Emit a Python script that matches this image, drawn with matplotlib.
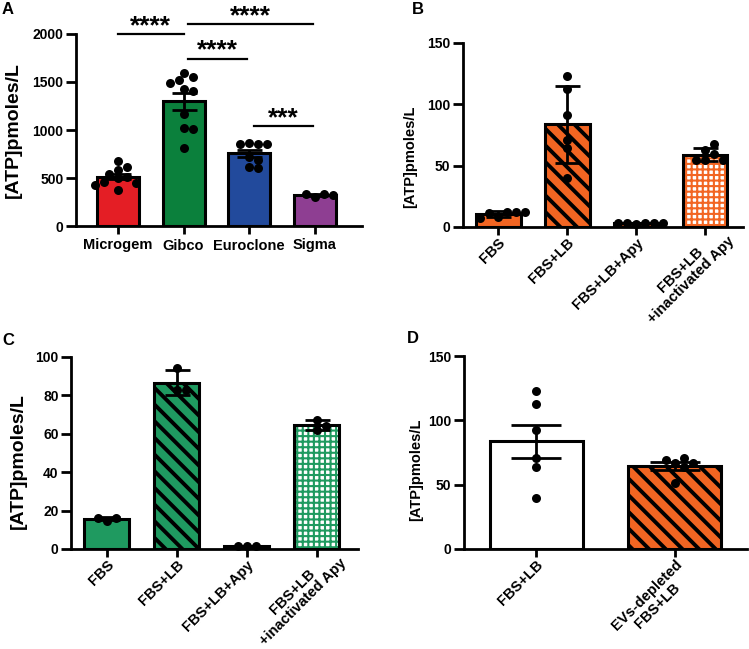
import numpy as np
import matplotlib
matplotlib.use("Agg")
import matplotlib.pyplot as plt

plt.rcParams['font.family'] = ['Liberation Sans', 'DejaVu Sans']
plt.rcParams['font.weight'] = 'bold'
plt.rcParams['axes.labelweight'] = 'bold'
plt.rcParams['axes.linewidth'] = 2

# ---- data ----
a_groups = ["Microgem", "Gibco", "Euroclone", "Sigma"]
a_colors = ["#E41E25", "#0B803C", "#224A9C", "#8E3E92"]
a_microgem = [677, 618, 583, 542, 514, 497, 460, 451, 430, 375]
a_gibco = [1597, 1549, 1521, 1493, 1424, 1410, 1163, 1017, 1007, 809]
a_euroclone = [868, 851, 851, 851, 722, 688, 618, 601]
a_sigma = [300, 338, 332, 322]
a_brackets = [(0, 1, 2000, "****"), (1, 3, 2100, "****"),
              (1, 2, 1740, "****"), (2, 3, 1040, "***")]

bc_groups = ["FBS", "FBS+LB", "FBS+LB+Apy", "FBS+LB\n+inactivated Apy"]
b_fbs = [8, 12, 11.5, 12, 7, 12]
b_fbs_lb = [123.3, 112.4, 91.4, 70.9, 64.1, 40.1]
b_apy = [2.5, 3, 3, 3.5, 3, 3]
b_inact = [62.8, 54.6, 59.3, 67.7, 54.6, 55]

c_fbs = [14.8, 16.1, 16.1]
c_fbs_lb = [94.1, 82.8, 82.8]
c_apy = [1.5, 1.7, 1.6]
c_inact = [62.2, 67.4, 63.9]

d_groups = ["FBS+LB", "EVs-depleted\nFBS+LB"]
d_fbs_lb = [122.6, 112.6, 92.4, 71.0, 64.0, 40.0]
d_ev = [66.6, 71.0, 69.2, 66.6, 51.1, 63.5]

orange = "#F26522"
green_c = "#1F9A60"

W, H = 749, 649
fig = plt.figure(figsize=(W / 100, H / 100), dpi=100)


def place(l, t, r, b):
    return fig.add_axes([l / W, 1 - b / H, (r - l) / W, (b - t) / H])


def style(ax, ymax, ystep, xlim):
    ax.set_xlim(*xlim)
    ax.set_ylim(0, ymax)
    ax.set_yticks(np.arange(0, ymax + 1, ystep))
    for s in ["top", "right"]:
        ax.spines[s].set_visible(False)
    ax.tick_params(axis="y", width=2, length=7, pad=2, labelsize=10)
    ax.tick_params(axis="x", width=2, length=6, pad=3, labelsize=10)


def swarm(ax, x0, vals, d=9.0):
    pts = ax.transData.transform([(x0, v) for v in vals])
    placed = []
    out = []
    for px, py in pts:
        for k in range(60):
            off = ((k + 1) // 2) * d * 0.5 * (1 if k % 2 else -1)
            ok = all((px + off - qx) ** 2 + (py - qy) ** 2 >= (d * 0.9) ** 2
                     for qx, qy in placed)
            if ok:
                break
        placed.append((px + off, py))
        out.append(ax.transData.inverted().transform((px + off, py)))
    out = np.array(out)
    ax.scatter(out[:, 0], out[:, 1], s=42, color="black", zorder=5,
               clip_on=False, linewidths=0)


def bars(ax, series, kinds, color, width, err="sem", cap=9):
    x = np.arange(len(series))
    for i, (vals, kind) in enumerate(zip(series, kinds)):
        v = np.array(vals, float)
        m = v.mean()
        sd = v.std(ddof=1)
        e = sd / np.sqrt(len(v)) if err == "sem" else sd
        c = color[i] if isinstance(color, list) else color
        if kind == "solid":
            ax.bar(i, m, width, color=c, edgecolor="black", linewidth=2.2, zorder=2)
        elif kind == "white":
            ax.bar(i, m, width, color="white", edgecolor="black", linewidth=2.2, zorder=2)
        elif kind == "stripe":
            b = ax.bar(i, m, width, color=c, edgecolor="black", linewidth=2.2,
                       hatch="\\\\", zorder=2)
            for p in b:
                if hasattr(p, "set_hatch_linewidth"):
                    p.set_hatch_linewidth(2.8)
        elif kind == "grid":
            b = ax.bar(i, m, width, color="white", edgecolor=c, linewidth=0,
                       hatch="+++", zorder=2)
            for p in b:
                if hasattr(p, "set_hatch_linewidth"):
                    p.set_hatch_linewidth(1.5)
            ax.bar(i, m, width, color="none", edgecolor="black", linewidth=2.2, zorder=2)
        ax.errorbar(i, m, yerr=e, fmt="none", ecolor="black", elinewidth=2,
                    capsize=cap, capthick=2, zorder=4)
        swarm(ax, i, vals)
    ax.set_xticks(x)


def rot_labels(ax, labels, size=10.5, shift=0):
    # rotated category labels, multi-line ones pushed along the text direction
    ax.set_xticklabels([""] * len(labels))
    for i, lab in enumerate(labels):
        s = shift if "\n" in lab else 0
        ax.annotate(lab, xy=(i, 0), xycoords=("data", "axes fraction"),
                    xytext=(s * 0.707, -6 + s * 0.707), textcoords="offset points",
                    rotation=45, ha="right", va="top", rotation_mode="anchor",
                    multialignment="center", fontsize=size, linespacing=1.1,
                    fontweight="bold", annotation_clip=False)


# ---- Panel A ----
axA = place(76, 34, 362, 226)
style(axA, 2000, 500, (-0.64, 3.72))
bars(axA, [a_microgem, a_gibco, a_euroclone, a_sigma], ["solid"] * 4, a_colors, 0.64)
axA.set_xticklabels(a_groups, fontsize=10.5)
axA.set_ylabel("[ATP]pmoles/L", fontsize=14)
axA.yaxis.set_label_coords(-0.19, 0.5)
for i, j, y, lab in a_brackets:
    x1 = i + (0.0 if i == 0 else 0.07)
    x2 = j - (0.0 if i == 0 else 0.03)
    axA.plot([x1, x2], [y, y], color="black", lw=1.6, clip_on=False)
    axA.text((x1 + x2) / 2, y - 40, lab, ha="center", va="bottom",
             fontsize=19, fontweight="bold")

# ---- Panel B ----
axB = place(463, 43, 743, 227)
style(axB, 150, 50, (-0.51, 3.55))
bars(axB, [b_fbs, b_fbs_lb, b_apy, b_inact], ["solid", "stripe", "solid", "grid"],
     orange, 0.65, err="sd")
rot_labels(axB, bc_groups, shift=12)
axB.set_ylabel("[ATP]pmoles/L", fontsize=10.5)
axB.yaxis.set_label_coords(-0.165, 0.38)

# ---- Panel C ----
axC = place(71, 357, 358, 549)
style(axC, 100, 20, (-0.51, 3.59))
bars(axC, [c_fbs, c_fbs_lb, c_apy, c_inact], ["solid", "stripe", "solid", "grid"],
     green_c, 0.64, err="sd")
rot_labels(axC, bc_groups, size=10.5, shift=12)
axC.set_ylabel("[ATP]pmoles/L", fontsize=14)
axC.yaxis.set_label_coords(-0.155, 0.46)

# ---- Panel D ----
axD = place(464, 356, 747, 549)
style(axD, 150, 50, (-0.52, 1.52))
bars(axD, [d_fbs_lb, d_ev], ["white", "stripe"], orange, 0.67, err="sem", cap=18)
rot_labels(axD, d_groups)
axD.set_ylabel("[ATP]pmoles/L", fontsize=10.5)
axD.yaxis.set_label_coords(-0.145, 0.41)

# panel letters
for lab, x, y in [("A", 2, 2), ("B", 412, 2), ("C", 2, 333), ("D", 407, 331)]:
    fig.text(x / W, 1 - y / H, lab, fontsize=12, fontweight="bold", va="top")

fig.savefig("out.png", dpi=100)
